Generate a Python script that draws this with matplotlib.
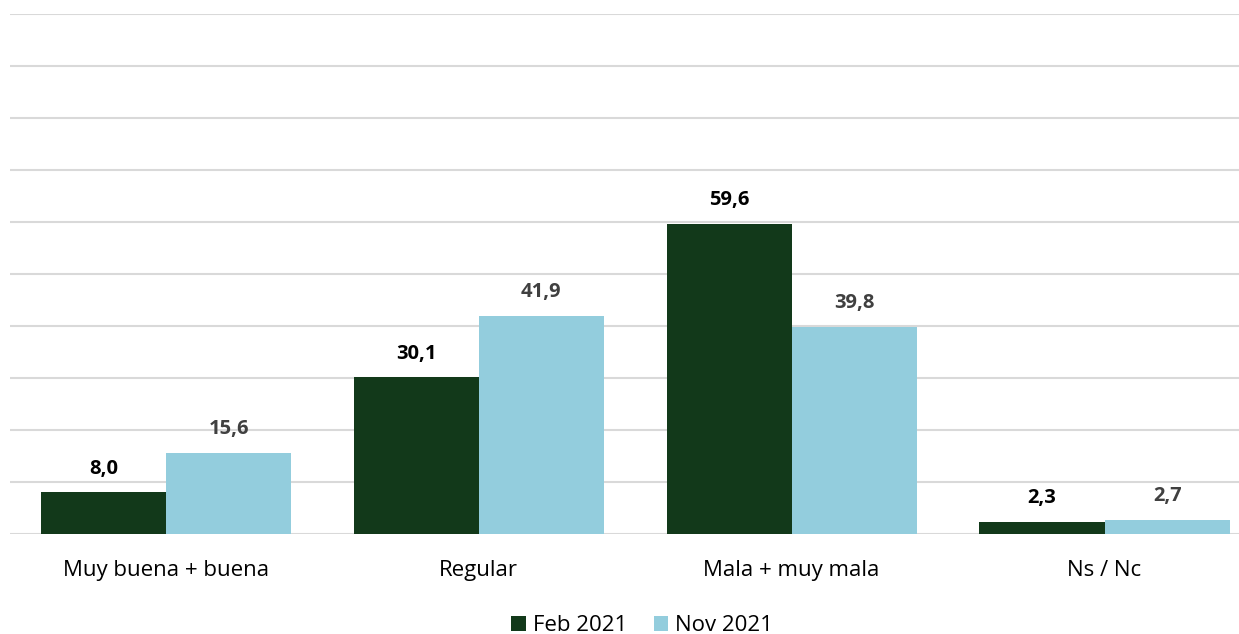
import matplotlib.pyplot as plt
import numpy as np

categories = ["Muy buena + buena", "Regular", "Mala + muy mala", "Ns / Nc"]
feb_2021 = [8.0, 30.1, 59.6, 2.3]
nov_2021 = [15.6, 41.9, 39.8, 2.7]
series_names = ["Feb 2021", "Nov 2021"]

DARK = "#12391a"
LIGHT = "#93cddd"
GRID = "#d9d9d9"

plt.rcParams["font.family"] = ["Open Sans", "DejaVu Sans"]

fig = plt.figure(figsize=(12.39, 6.34), dpi=100)
ax = fig.add_axes([9.5 / 1239, 100 / 634, 1229.5 / 1239, 520 / 634])

x = np.arange(len(categories))
w = 0.4
b1 = ax.bar(x - w / 2, feb_2021, w, color=DARK, label=series_names[0], zorder=3)
b2 = ax.bar(x + w / 2, nov_2021, w, color=LIGHT, label=series_names[1], zorder=3)

def fmt(v):
    return f"{v:.1f}".replace(".", ",")

for rect, v in zip(b1, feb_2021):
    ax.annotate(fmt(v), (rect.get_x() + rect.get_width() / 2, v), xytext=(0, 10),
                textcoords="offset points", ha="center", va="bottom",
                fontsize=14.5, fontweight="bold", color="black")
for rect, v in zip(b2, nov_2021):
    ax.annotate(fmt(v), (rect.get_x() + rect.get_width() / 2, v), xytext=(0, 10),
                textcoords="offset points", ha="center", va="bottom",
                fontsize=14.5, fontweight="bold", color="#404040")

ax.set_ylim(0, 100)
ax.set_xlim(-0.5, 3.5 - 22 / 313)
ax.set_yticks(np.arange(0, 101, 10))
ax.set_yticklabels([])
ax.tick_params(axis="y", length=0)
ax.yaxis.grid(True, color=GRID, linewidth=1.5, zorder=0)
ax.set_xticks(x)
ax.set_xticklabels(categories, fontsize=16, color="black")
ax.tick_params(axis="x", length=0, pad=19)
for side in ["top", "right", "left", "bottom"]:
    ax.spines[side].set_visible(False)

fig.legend(loc="lower center", bbox_to_anchor=(642 / 1239, -0.035), ncol=2, frameon=False,
           fontsize=16, handlelength=0.65, handleheight=0.65, handletextpad=0.3,
           columnspacing=1.2)

fig.savefig("out.png", dpi=100)
